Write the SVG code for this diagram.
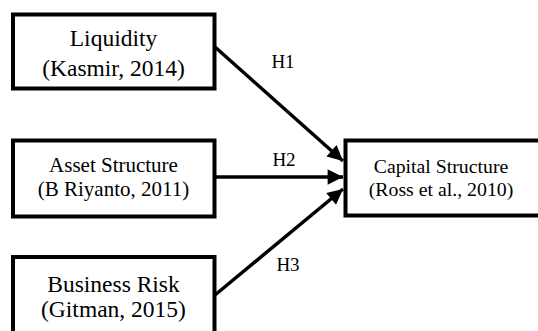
<svg xmlns="http://www.w3.org/2000/svg" width="538" height="331" viewBox="0 0 538 331">
<defs>
<style>
.box{fill:#fff;stroke:#000;stroke-width:4}
.t{font-family:"Liberation Serif","Times New Roman",serif;fill:#000;text-anchor:middle}
.big{font-size:23.5px}
.mid{font-size:21px}
.cap{font-size:19.8px}
.lab{font-size:19px}
.edge{stroke:#000;stroke-width:3.5;fill:none}
</style>
<marker id="ah" viewBox="0 0 10 10" refX="10" refY="5" markerWidth="4.6" markerHeight="4.4" markerUnits="strokeWidth" orient="auto">
<path d="M0,0 L10,5 L0,10 z" fill="#000"/>
</marker>
</defs>
<rect width="538" height="331" fill="#fff"/>
<g id="edges">
<line class="edge" x1="215" y1="47" x2="343" y2="161" marker-end="url(#ah)"/>
<line class="edge" x1="215" y1="177" x2="343" y2="177" marker-end="url(#ah)"/>
<line class="edge" x1="215" y1="295" x2="343" y2="189" marker-end="url(#ah)"/>
<text class="t lab" x="283" y="68">H1</text>
<text class="t lab" x="284" y="166">H2</text>
<text class="t lab" x="288" y="271">H3</text>
</g>
<g id="liquidity">
<rect class="box" x="13" y="14.5" width="201.5" height="74"/>
<text class="t big" x="113.5" y="46">Liquidity</text>
<text class="t big" x="113.5" y="76">(Kasmir, 2014)</text>
</g>
<g id="asset">
<rect class="box" x="13" y="140.5" width="201.5" height="76"/>
<text class="t mid" x="113.5" y="172">Asset Structure</text>
<text class="t mid" x="113.5" y="196">(B Riyanto, 2011)</text>
</g>
<g id="business">
<rect class="box" x="13" y="257" width="201.5" height="76"/>
<text class="t big" x="113.5" y="292">Business Risk</text>
<text class="t big" x="113.5" y="317">(Gitman, 2015)</text>
</g>
<g id="capital">
<rect class="box" x="345.5" y="140.5" width="200" height="75"/>
<text class="t cap" x="441" y="173">Capital Structure</text>
<text class="t cap" x="441" y="196">(Ross et al., 2010)</text>
</g>
</svg>
